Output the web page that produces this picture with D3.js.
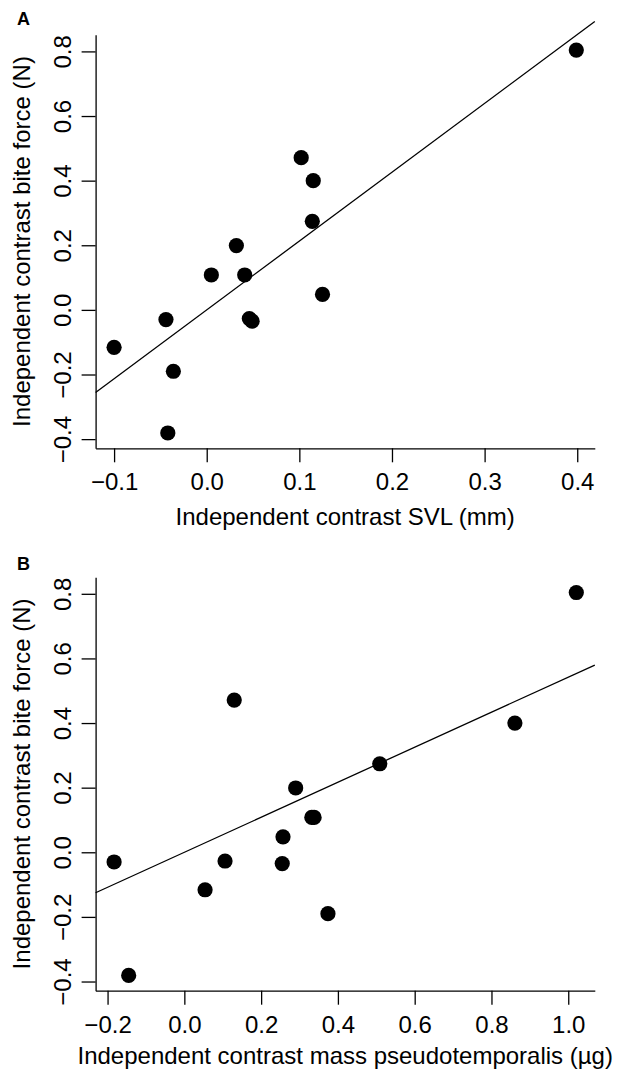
<!DOCTYPE html>
<html lang="en">
<head>
    <meta charset="UTF-8">
    <title>Bite force contrasts</title>
    <script src="https://d3js.org/d3.v7.min.js"></script>
    <style>
        body { margin: 0; background: #fff; }
        text { font-family: "Liberation Sans", Arial, Helvetica, sans-serif; fill: #000; }
        .axis text { font-size: 24px; }
        .axis line, .axis path { stroke: #000; stroke-width: 1.3; }
    </style>
</head>
<body>
    <svg id="chart" width="625" height="1071"></svg>
    <script>
        // independent contrasts, one entry per contrast
        const biteForce = [0.804, 0.471, 0.400, 0.274, 0.199, 0.108, 0.108, 0.048, -0.027, -0.030, -0.035, -0.116, -0.190, -0.381];
        const svl       = [0.399, 0.102, 0.115, 0.114, 0.032, 0.005, 0.041, 0.125, 0.046, -0.044, 0.049, -0.100, -0.036, -0.042];
        const massPt    = [1.021, 0.130, 0.861, 0.509, 0.290, 0.332, 0.338, 0.257, 0.106, -0.183, 0.255, 0.054, 0.374, -0.145];

        // regression through origin (slope)
        const slopeA = 2.13;
        const slopeB = 0.542;

        const yTicks = [-0.4, -0.2, 0.0, 0.2, 0.4, 0.6, 0.8];
        const xTicksA = [-0.1, 0.0, 0.1, 0.2, 0.3, 0.4];
        const xTicksB = [-0.2, 0.0, 0.2, 0.4, 0.6, 0.8, 1.0];

        const svg = d3.select("#chart");
        const fmt = d3.format(".1f");

        // R style range: data extent padded 4% on each side
        function pad(vals) {
            const [a, b] = d3.extent(vals);
            const d = (b - a) * 0.04;
            return [a - d, b + d];
        }

        function panel(opts) {
            const x = d3.scaleLinear().domain(pad(opts.xs)).range([95.6, 594.8]);
            const y = d3.scaleLinear().domain(pad(biteForce)).range([opts.bottom, opts.bottom - 413.5]);
            const g = svg.append("g");

            g.append("g")
                .attr("class", "axis")
                .attr("transform", `translate(0,${opts.bottom})`)
                .call(d3.axisBottom(x).tickValues(opts.xTicks).tickFormat(fmt).tickSize(14).tickSizeOuter(0))
                .call(s => s.selectAll("text").attr("y", 42).attr("dy", 0));

            g.append("g")
                .attr("class", "axis")
                .attr("transform", "translate(95.6,0)")
                .call(d3.axisLeft(y).tickValues(yTicks).tickFormat(fmt).tickSize(14).tickSizeOuter(0))
                .call(s => s.selectAll("text")
                    .attr("x", 0).attr("y", -24.6).attr("dy", 0)
                    .attr("transform", "rotate(-90)")
                    .style("text-anchor", "middle"));

            g.selectAll("path.domain").attr("fill", "none");

            // fitted line across the x range
            const [x0, x1] = x.domain();
            g.append("line")
                .attr("x1", x(x0)).attr("y1", y(opts.slope * x0))
                .attr("x2", x(x1)).attr("y2", y(opts.slope * x1))
                .attr("stroke", "#000")
                .attr("stroke-width", 1.3);

            g.selectAll("circle")
                .data(opts.xs.map((v, i) => [v, biteForce[i]]))
                .enter()
                .append("circle")
                .attr("cx", d => x(d[0]))
                .attr("cy", d => y(d[1]))
                .attr("r", 7.6)
                .attr("fill", "#000");

            const midY = opts.bottom - 413.5 / 2;
            g.append("text")
                .attr("transform", `translate(30,${midY}) rotate(-90)`)
                .attr("text-anchor", "middle")
                .style("font-size", "24px")
                .text("Independent contrast bite force (N)");

            g.append("text")
                .attr("x", (95.6 + 594.8) / 2)
                .attr("y", opts.bottom + opts.titleGap)
                .attr("text-anchor", "middle")
                .style("font-size", "24px")
                .text(opts.xLabel);

            g.append("text")
                .attr("x", 17)
                .attr("y", opts.letterY)
                .style("font-size", "18px")
                .style("font-weight", "bold")
                .text(opts.letter);
        }

        panel({xs: svl, xTicks: xTicksA, slope: slopeA, bottom: 448.3, letter: "A", letterY: 25, titleGap: 77,
               xLabel: "Independent contrast SVL (mm)"});
        panel({xs: massPt, xTicks: xTicksB, slope: slopeB, bottom: 990.7, letter: "B", letterY: 570, titleGap: 73,
               xLabel: "Independent contrast mass pseudotemporalis (µg)"});
    </script>
</body>
</html>
